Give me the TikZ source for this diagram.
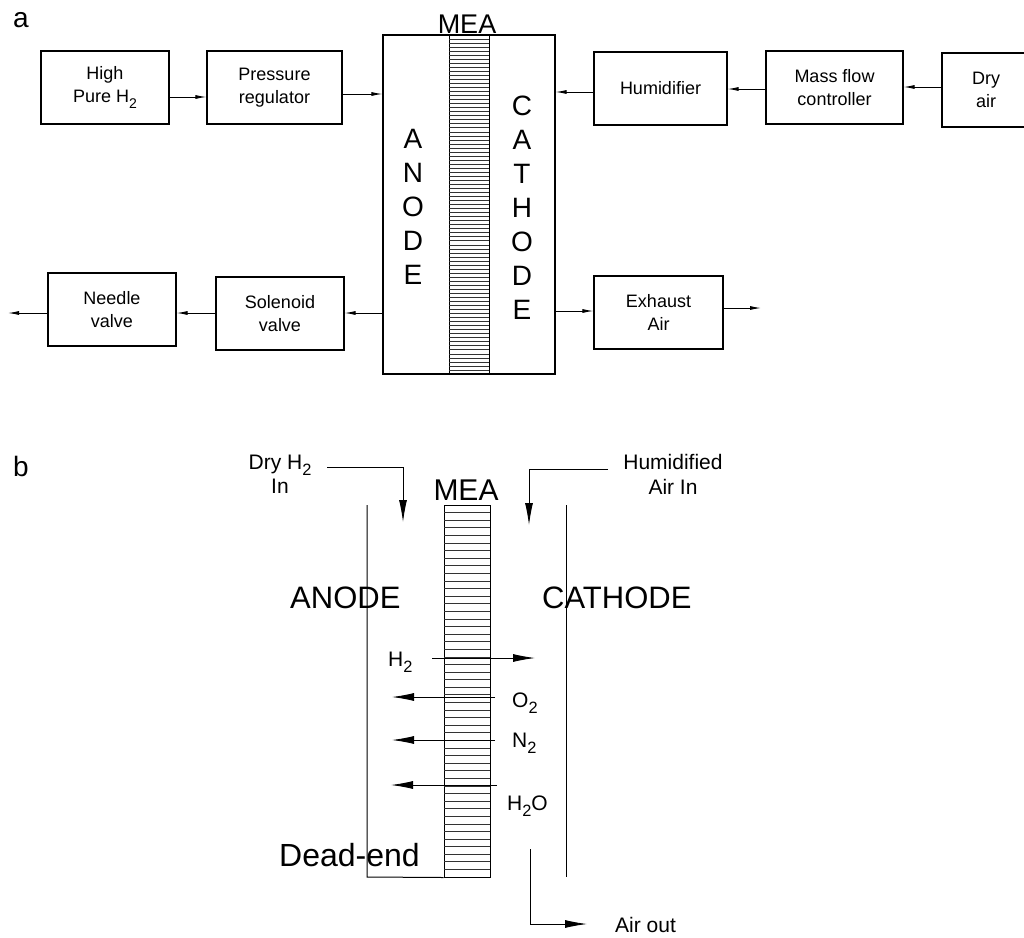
\documentclass[tikz,border=0pt]{standalone}
\usepackage{fontspec}
\setmainfont{Liberation Sans}
\usetikzlibrary{arrows.meta}
\newcommand\mysub[1]{\raisebox{-0.29em}{\scalebox{0.78}{#1}}}
\begin{document}
\begin{tikzpicture}[x=1pt,y=-1pt,
  box/.style={draw, line width=1.1pt, inner sep=0pt, align=center, font=\fontsize{18}{23}\selectfont},
  arra/.style={line width=0.9pt, -{Latex[length=11pt,width=4pt]}},
  arrb/.style={line width=0.9pt, -{Latex[length=22pt,width=8pt]}},
  hatch/.style={line width=0.7pt, black!80},
  wall/.style={line width=1pt},
  plain/.style={inner sep=0pt},
  vlet/.style={inner sep=0pt, align=center, font=\fontsize{28}{34}\selectfont},
  small/.style={inner sep=0pt, anchor=base west, font=\fontsize{21}{21}\selectfont}]
\useasboundingbox (0,0) rectangle (1024,937);
\clip (0,0) rectangle (1024,937);
% ---------------- panel a ----------------
\node[plain, font=\fontsize{28}{30}\selectfont] (la) at (21,20) {a};
\node[box, minimum width=128, minimum height=73] (h2) at (105,87.5) {High\\Pure H\mysub{2}};
\node[box, minimum width=135, minimum height=73] (preg) at (274.5,87.5) {Pressure\\regulator};
\node[draw, line width=1.1pt, minimum width=172, minimum height=339, inner sep=0pt] (mea) at (469,204.5) {};
\node[draw, line width=1pt, minimum width=40, minimum height=339, inner sep=0pt] (memA) at (469,204.5) {};
\foreach \i in {1,...,83} \draw[hatch] (449,{35+\i*4.036}) -- (489,{35+\i*4.036});
\node[plain, font=\fontsize{27}{27}\selectfont] (meaA) at (467,24) {MEA};
\node[vlet] (anodeA) at (413,207) {A\\N\\O\\D\\E};
\node[vlet] (cathA) at (522,208) {C\\A\\T\\H\\O\\D\\E};
\node[box, minimum width=133, minimum height=73] (hum) at (660.5,88.5) {Humidifier};
\node[box, minimum width=137, minimum height=73] (mfc) at (834.5,87.5) {Mass flow\\controller};
\node[box, minimum width=88, minimum height=74] (dry) at (986,90) {Dry\\air};
\node[box, minimum width=128, minimum height=73] (needle) at (112,309.5) {Needle\\valve};
\node[box, minimum width=128, minimum height=73] (sol) at (280,313.5) {Solenoid\\valve};
\node[box, minimum width=129, minimum height=73] (exh) at (658.5,312.5) {Exhaust\\Air};
\coordinate (needleOut) at (8,313);
\coordinate (exhOut) at (761,308);
\draw[arra] (h2.east |- 0,97) -- (preg.west |- 0,97);
\draw[arra] (preg.east |- 0,94) -- (mea.west |- 0,94);
\draw[arra] (hum.west |- 0,92) -- (mea.east |- 0,92);
\draw[arra] (mfc.west |- 0,89) -- (hum.east |- 0,89);
\draw[arra] (dry.west |- 0,87) -- (mfc.east |- 0,87);
\draw[arra] (mea.west |- 0,313) -- (sol.east |- 0,313);
\draw[arra] (sol.west |- 0,313) -- (needle.east |- 0,313);
\draw[arra] (needle.west |- needleOut) -- (needleOut);
\draw[arra] (mea.east |- 0,311) -- (exh.west |- 0,311);
\draw[arra] (exh.east |- exhOut) -- (exhOut);
% ---------------- panel b ----------------
\node[plain, font=\fontsize{28}{30}\selectfont] (lb) at (21,466) {b};
\node[plain, align=center, font=\fontsize{21}{24}\selectfont] (dryin) at (280,474) {Dry H\mysub{2}\\In};
\node[plain, align=center, font=\fontsize{21}{25}\selectfont] (humin) at (673,474.5) {Humidified\\Air In};
\coordinate (dryS) at (327,467);
\coordinate (dryE) at (403,522);
\coordinate (humS) at (608,469);
\coordinate (humE) at (529,525);
\draw[arrb] (dryS) -| (dryE);
\draw[arrb] (humS) -| (humE);
\node[plain, anchor=base, font=\fontsize{30}{30}\selectfont] (meaB) at (466,500) {MEA};
\node[draw, line width=1pt, inner sep=0pt, minimum width=46, minimum height=372] (memB) at (467,691) {};
\foreach \i in {1,...,48} \draw[hatch] (444,{505+\i*7.592}) -- (490,{505+\i*7.592});
\coordinate (anTop) at (367,505);
\coordinate (anBot) at (367,877);
\draw[wall] (anTop) -- (anBot) -- (memB.south west);
\coordinate (caTop) at (566,505);
\coordinate (caBot) at (566,877);
\draw[wall] (caTop) -- (caBot);
\node[plain, anchor=base west, font=\fontsize{31}{31}\selectfont] (anodeB) at (290,608) {ANODE};
\node[plain, anchor=base west, font=\fontsize{31}{31}\selectfont] (cathB) at (542,608) {CATHODE};
\node[small] (h2l) at (388,666) {H\mysub{2}};
\node[small] (o2l) at (512,707) {O\mysub{2}};
\node[small] (n2l) at (512,747) {N\mysub{2}};
\node[small] (h2ol) at (507,810) {H\mysub{2}O};
\coordinate (h2S) at (432,658);
\coordinate (h2E) at (535,658);
\coordinate (o2S) at (495,697);
\coordinate (o2E) at (392,697);
\coordinate (n2S) at (495,740);
\coordinate (n2E) at (392,740);
\coordinate (h2oS) at (497,785);
\coordinate (h2oE) at (391,785);
\draw[arrb] (h2S) -- (h2E);
\draw[arrb] (o2S) -- (o2E);
\draw[arrb] (n2S) -- (n2E);
\draw[arrb] (h2oS) -- (h2oE);
\node[plain, anchor=base west, font=\fontsize{32}{32}\selectfont] (dead) at (279,866) {Dead-end};
\coordinate (aoS) at (530,849);
\coordinate (aoE) at (587,924);
\draw[arrb] (aoS) |- (aoE);
\node[small] (airout) at (615,932) {Air out};
\end{tikzpicture}
\end{document}
